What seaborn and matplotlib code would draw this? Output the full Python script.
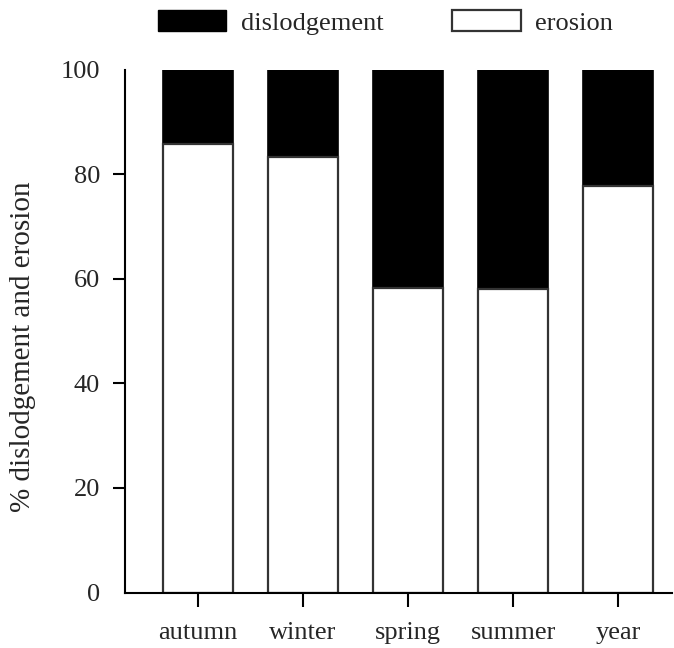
import matplotlib
matplotlib.use("Agg")
import matplotlib.pyplot as plt
import matplotlib.patches as mpatches
import seaborn as sns
import pandas as pd

# Share of sediment loss per period (%)
periods = ["autumn", "winter", "spring", "summer", "year"]
erosion = [85.8, 83.2, 58.2, 58.0, 77.8]
dislodgement = [14.2, 16.8, 41.8, 42.0, 22.2]
y_ticks = [0, 20, 40, 60, 80, 100]

df = pd.DataFrame({"period": periods, "erosion": erosion, "dislodgement": dislodgement})
df["total"] = df["erosion"] + df["dislodgement"]

sns.set_theme(style="white")
plt.rcParams["font.family"] = ["Liberation Serif", "DejaVu Serif"]

fig = plt.figure(figsize=(6.74, 6.48), dpi=100)
ax = fig.add_axes([125 / 674, 1 - 592.5 / 648, (672 - 125) / 674, (592.5 - 69.5) / 648])

edge = "#333333"
# stacked bars: full column in black, erosion share drawn over it in white
sns.barplot(data=df, x="period", y="total", color="black", edgecolor="black",
            linewidth=1.2, width=0.666, saturation=1, ax=ax)
sns.barplot(data=df, x="period", y="erosion", color="white", edgecolor=edge,
            linewidth=1.6, width=0.666, saturation=1, ax=ax)

ax.set_xlim(-0.695, 4.51)
ax.set_ylim(0, 100)
ax.set_yticks(y_ticks)
ax.set_yticklabels([str(v) for v in y_ticks])
ax.set_xlabel("")
ax.set_ylabel("% dislodgement and erosion", fontsize=21)
ax.yaxis.set_label_coords(-0.163, 0.47)

for s in ["top", "right"]:
    ax.spines[s].set_visible(False)
for s in ["left", "bottom"]:
    ax.spines[s].set_color("black")
    ax.spines[s].set_linewidth(1.5)

ax.tick_params(axis="y", direction="out", length=9, width=1.5, color="black",
               labelsize=19, pad=9, left=True)
ax.tick_params(axis="x", direction="out", length=10, width=1.5, color="black",
               labelsize=19, pad=11, bottom=True)
yt = ax.yaxis.get_major_ticks()
yt[0].tick1line.set_visible(False)
yt[-1].tick1line.set_visible(False)

handles = [
    mpatches.Patch(facecolor="black", edgecolor="black", label="dislodgement"),
    mpatches.Patch(facecolor="white", edgecolor=edge, linewidth=1.6, label="erosion"),
]
fig.legend(handles=handles, loc="center", bbox_to_anchor=(0.572, 0.965), ncol=2,
           frameon=False, fontsize=19, handlelength=2.6, handleheight=0.85,
           handletextpad=0.55, columnspacing=2.6)

fig.savefig("out.png", dpi=100, facecolor="white")
